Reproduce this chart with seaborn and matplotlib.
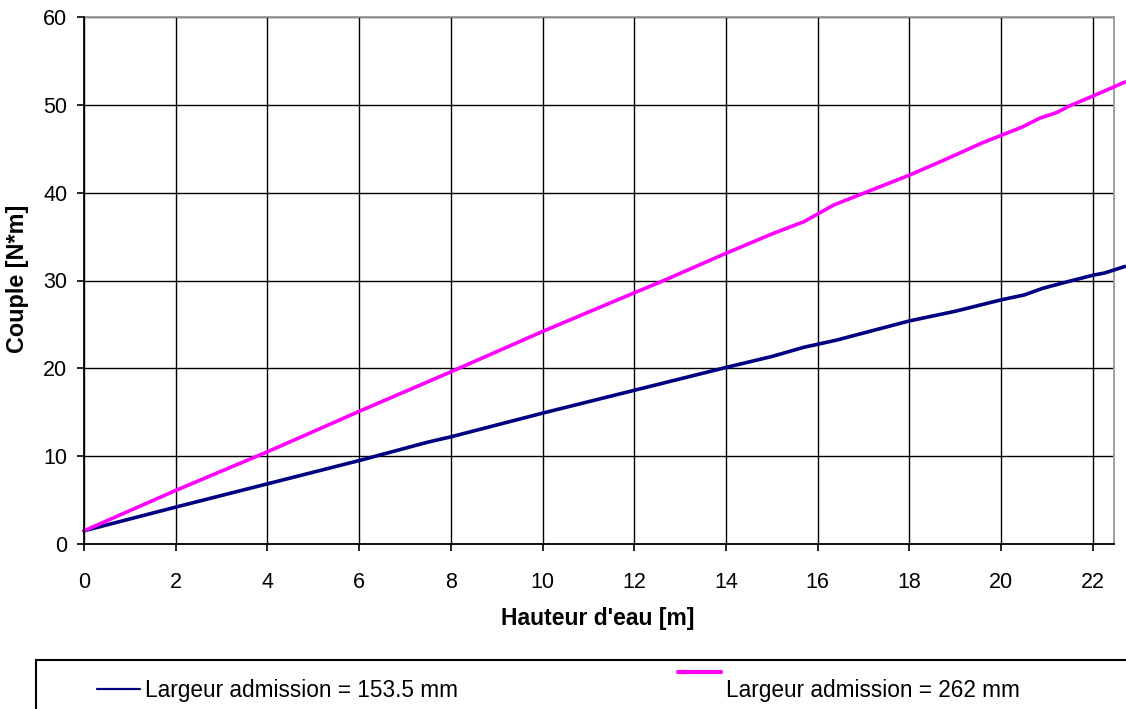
import matplotlib
matplotlib.use("Agg")
import matplotlib.pyplot as plt
import seaborn as sns
import pandas as pd
from matplotlib.patches import Rectangle
from matplotlib.transforms import Affine2D

# Torque vs. water height for two intake widths
hauteur_153 = [0, 2, 4, 6, 7.5, 8, 10, 12, 14, 15, 15.7, 16.4, 18, 19, 20, 20.5, 20.9, 21.4, 22, 22.25, 22.7]
couple_153 = [1.5, 4.2, 6.85, 9.5, 11.6, 12.2, 14.9, 17.5, 20.1, 21.35, 22.4, 23.2, 25.4, 26.5, 27.8, 28.35, 29.1, 29.8, 30.6, 30.85, 31.6]

hauteur_262 = [0, 2, 4, 6, 8, 10, 12, 12.6, 14, 15, 15.7, 16.35, 18, 18.75, 19.6, 20.45, 20.85, 21.2, 21.5, 22, 22.7]
couple_262 = [1.5, 6.1, 10.5, 15.1, 19.6, 24.2, 28.6, 29.9, 33.1, 35.3, 36.7, 38.6, 42.0, 43.7, 45.7, 47.45, 48.5, 49.1, 49.9, 51.0, 52.6]

label_153 = "Largeur admission = 153.5 mm"
label_262 = "Largeur admission = 262 mm"

x_ticks = list(range(0, 23, 2))
y_ticks = list(range(0, 61, 10))

sns.set_style("white")
plt.rcParams["font.family"] = ["Liberation Sans", "DejaVu Sans"]
plt.rcParams["text.color"] = "black"
plt.rcParams["axes.labelcolor"] = "black"

W, H = 1126, 709
fig = plt.figure(figsize=(W / 100, H / 100), dpi=100)
ax = fig.add_axes([84 / W, 1 - 544 / H, (1114 - 84) / W, (544 - 17) / H])

df153 = pd.DataFrame({"h": hauteur_153, "c": couple_153})
df262 = pd.DataFrame({"h": hauteur_262, "c": couple_262})

sns.lineplot(data=df153, x="h", y="c", ax=ax, color="#000080", lw=2.6,
             label=label_153, sort=False, clip_on=False, zorder=5)
sns.lineplot(data=df262, x="h", y="c", ax=ax, color="#FF00FF", lw=2.6,
             label=label_262, sort=False, clip_on=False, zorder=5)

ax.set_xlim(0, 22.46)
ax.set_ylim(0, 60)
ax.set_xticks(x_ticks)
ax.set_yticks(y_ticks)
ax.grid(True, color="black", lw=1.0)
ax.set_axisbelow(True)

for side in ("left", "bottom"):
    ax.spines[side].set_color("black")
    ax.spines[side].set_linewidth(1.3)
    ax.spines[side].set_zorder(6)
for side in ("top", "right"):
    ax.spines[side].set_color("#999999")
    ax.spines[side].set_linewidth(1.3)
    ax.spines[side].set_visible(True)

ax.tick_params(axis="both", direction="out", length=5, width=1.2, color="black",
               labelsize=15.5, labelcolor="black", left=True, bottom=True)
ax.tick_params(axis="x", pad=15)
ax.tick_params(axis="y", pad=7)

ax.set_xlabel("Hauteur d'eau [m]", fontsize=16.5, fontweight="bold", va="center", color="black")
ax.set_ylabel("Couple [N*m]", fontsize=16.8, fontweight="bold", va="center", color="black")
ax.xaxis.set_label_coords((598 - 84) / 1030, (544 - 619) / 527)
ax.yaxis.set_label_coords((18 - 84) / 1030, (544 - 279) / 527)

ax.get_legend().remove()
handles, labels = ax.get_legend_handles_labels()
leg = fig.legend(handles, labels, loc="center left", bbox_to_anchor=(88 / W, 1 - 690 / H),
                 ncol=2, frameon=False, fontsize=16.3, handlelength=1.9,
                 handletextpad=0.22, columnspacing=9.72, borderaxespad=0)
for t in leg.get_texts():
    t.set_color("black")
lines = leg.get_lines()
lines[0].set_linewidth(1.6)
lines[1].set_linewidth(3.0)
lines[1].set_transform(lines[1].get_transform() + Affine2D().translate(0, 17))

# Legend frame running off the lower right edge
fig.patches.append(Rectangle((36 / W, -0.05), 1.2, 1 - 660 / H + 0.05,
                             transform=fig.transFigure, fill=False,
                             edgecolor="black", lw=1.5))

fig.savefig("out.png", dpi=100)
